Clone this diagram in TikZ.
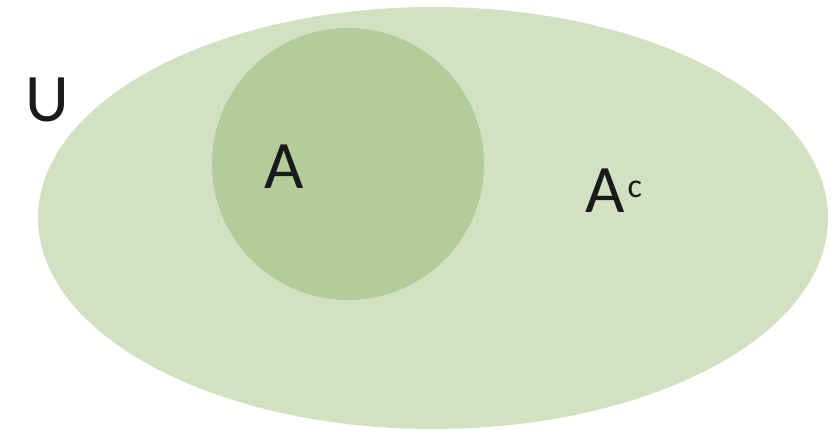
\documentclass[tikz,border=0pt]{standalone}
\usepackage{fontspec}
\setmainfont{Carlito}
\definecolor{outerg}{HTML}{D3E1C3}
\definecolor{innerg}{HTML}{B2CD9A}
\definecolor{txt}{HTML}{1A1A1A}
\begin{document}
\begin{tikzpicture}[x=1pt,y=1pt,
  lbl/.style={text=txt,font=\fontsize{68}{68}\selectfont,inner sep=0pt}]
\useasboundingbox (0,0) rectangle (835,429);
\fill[outerg] (433,211) ellipse [x radius=395, y radius=211];
\fill[innerg] (348,265) circle [radius=136];
\node[lbl] (U) at (47,329) {U};
\node[lbl] (A) at (284,262) {A};
\node[lbl,anchor=base west] (Ac) at (585,216) {A\kern3pt\raisebox{15pt}{\fontsize{34}{34}\selectfont c}};
\end{tikzpicture}
\end{document}
